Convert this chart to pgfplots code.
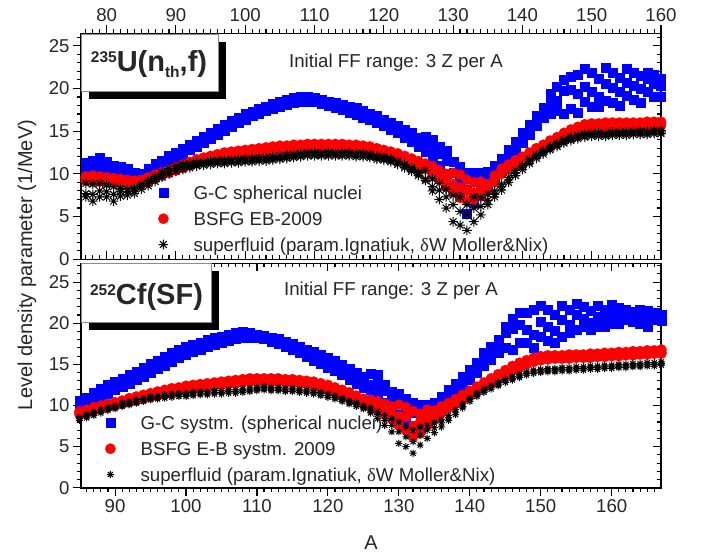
\documentclass[border=0pt]{standalone}
\usepackage{pgfplots}
\pgfplotsset{compat=1.18}
\usepackage{pgfplotstable}
\usepackage{fontspec}
\setmainfont{Liberation Sans}
\newfontfamily\seriffont{Liberation Serif}

% eight-armed asterisk for the superfluid model
\pgfdeclareplotmark{star8}{%
  \pgfpathmoveto{\pgfqpoint{-\pgfplotmarksize}{0pt}}%
  \pgfpathlineto{\pgfqpoint{\pgfplotmarksize}{0pt}}%
  \pgfpathmoveto{\pgfqpoint{0pt}{-\pgfplotmarksize}}%
  \pgfpathlineto{\pgfqpoint{0pt}{\pgfplotmarksize}}%
  \pgfpathmoveto{\pgfqpoint{-0.707\pgfplotmarksize}{-0.707\pgfplotmarksize}}%
  \pgfpathlineto{\pgfqpoint{0.707\pgfplotmarksize}{0.707\pgfplotmarksize}}%
  \pgfpathmoveto{\pgfqpoint{-0.707\pgfplotmarksize}{0.707\pgfplotmarksize}}%
  \pgfpathlineto{\pgfqpoint{0.707\pgfplotmarksize}{-0.707\pgfplotmarksize}}%
  \pgfusepathqstroke}

% U-235(nth,f): A, G-C (3 Z), BSFG (3 Z), superfluid (3 Z)
\pgfplotstableread{
A b1 b2 b3 r1 r2 r3 k1 k2 k3
77 11.3 10.4 10.2 9.7 9.5 9.2 8.9 7.7 7.3
78 11.6 10.9 10.3 9.8 9.5 9.1 8.8 7.6 6.8
79 11.9 11.0 10.2 9.7 9.4 9.1 8.9 8.0 7.3
80 11.4 10.8 10.3 9.6 9.3 9.0 8.7 7.9 7.3
81 11.0 10.6 10.2 9.5 9.2 8.9 8.5 7.6 6.8
82 10.9 10.4 10.0 9.4 9.1 8.9 8.3 7.9 7.4
83 10.6 10.1 9.9 9.3 9.0 8.8 8.2 7.9 7.5
84 10.2 9.9 9.6 9.2 9.0 8.8 8.3 8.0 7.7
85 10.0 9.8 9.6 9.3 9.1 8.9 8.8 8.5 8.2
86 10.6 10.3 10.0 9.6 9.4 9.2 9.2 8.9 8.6
87 11.2 10.8 10.5 9.9 9.7 9.5 9.7 9.4 9.1
88 11.6 11.3 11.0 10.2 10.0 9.8 10.2 9.9 9.6
89 12.1 11.7 11.4 10.5 10.3 10.1 10.6 10.3 10.0
90 12.5 12.2 11.9 10.8 10.6 10.4 10.9 10.6 10.3
91 13.0 12.6 12.3 11.1 10.9 10.7 11.1 10.8 10.5
92 13.4 13.1 12.8 11.4 11.2 11.0 11.2 11.0 10.7
93 13.9 13.6 13.2 11.7 11.5 11.3 11.3 11.1 10.9
94 14.4 14.0 13.7 11.9 11.7 11.5 11.4 11.2 11.0
95 14.8 14.5 14.1 12.1 11.9 11.7 11.5 11.3 11.1
96 15.3 15.0 14.6 12.3 12.1 11.9 11.6 11.4 11.2
97 15.8 15.4 15.1 12.5 12.3 12.1 11.6 11.4 11.2
98 16.2 15.9 15.5 12.6 12.4 12.2 11.7 11.5 11.3
99 16.6 16.3 16.0 12.7 12.5 12.3 11.7 11.5 11.3
100 17.0 16.7 16.4 12.8 12.6 12.4 11.8 11.6 11.4
101 17.3 17.0 16.8 12.9 12.7 12.5 11.8 11.6 11.4
102 17.6 17.3 17.1 13.0 12.8 12.6 11.9 11.7 11.5
103 17.9 17.6 17.4 13.1 12.9 12.7 11.9 11.7 11.5
104 18.2 17.9 17.6 13.2 13.0 12.8 12.0 11.8 11.6
105 18.5 18.2 17.9 13.3 13.1 12.9 12.1 11.9 11.7
106 18.7 18.4 18.1 13.3 13.1 12.9 12.2 12.0 11.8
107 18.9 18.6 18.3 13.4 13.2 13.0 12.3 12.1 11.9
108 19.1 18.8 18.5 13.4 13.2 13.0 12.4 12.2 12.0
109 19.0 18.8 18.5 13.5 13.3 13.1 12.5 12.3 12.1
110 18.9 18.7 18.4 13.5 13.3 13.1 12.5 12.3 12.1
111 18.7 18.5 18.2 13.5 13.3 13.1 12.5 12.3 12.1
112 18.5 18.3 18.0 13.5 13.3 13.1 12.5 12.3 12.1
113 18.3 18.1 17.8 13.5 13.3 13.1 12.5 12.3 12.1
114 18.1 17.8 17.5 13.5 13.3 13.1 12.5 12.3 12.1
115 17.9 17.6 17.2 13.4 13.2 13.0 12.5 12.3 12.1
116 17.7 17.3 16.9 13.4 13.2 13.0 12.4 12.2 12.0
117 17.4 17.0 16.6 13.3 13.1 12.9 12.4 12.2 12.0
118 17.1 16.7 16.3 13.2 13.0 12.8 12.3 12.1 11.9
119 16.8 16.4 16.0 13.0 12.8 12.6 12.1 11.9 11.7
120 16.4 16.0 15.6 12.8 12.6 12.4 12.0 11.8 11.6
121 16.0 15.6 15.2 12.6 12.4 12.2 11.8 11.6 11.4
122 15.6 15.2 14.8 12.4 12.1 11.9 11.5 11.3 11.1
123 15.2 14.8 14.3 12.1 11.8 11.6 11.1 10.9 10.7
124 14.8 14.3 13.8 11.8 11.5 11.2 10.7 10.5 10.3
125 14.3 13.8 13.2 11.5 11.2 10.9 10.2 10.0 9.8
126 14.4 13.4 12.6 11.2 10.9 10.6 10.4 9.4 9.2
127 14.0 13.0 11.8 10.9 10.5 10.0 9.4 8.5 8.0
128 13.2 12.4 11.0 10.4 9.9 9.3 8.9 8.1 7.0
129 12.7 11.6 10.0 10.0 9.2 8.5 8.2 7.3 6.0
130 11.4 10.2 8.8 10.1 8.8 7.9 7.5 6.4 4.4
131 10.9 9.3 7.4 9.9 8.4 7.2 7.3 5.6 4.0
132 10.1 8.2 5.4 9.3 8.0 6.8 6.4 5.2 3.4
133 10.1 7.5 6.6 9.0 7.8 7.0 7.3 6.0 4.4
134 10.2 8.6 7.4 9.1 8.1 7.4 7.2 6.2 5.2
135 10.3 9.4 8.4 8.8 8.5 8.0 7.6 6.9 6.4
136 11.0 10.2 9.6 9.8 9.4 9.0 8.0 7.6 7.3
137 11.8 11.2 10.6 10.6 10.3 10.0 8.8 8.5 8.1
138 12.8 12.2 11.6 11.1 10.8 10.5 9.6 9.3 9.0
139 13.8 13.2 12.6 11.6 11.3 11.0 10.4 10.1 9.8
140 14.8 14.2 13.6 12.0 11.8 11.5 11.0 10.8 10.5
141 15.8 15.2 14.6 12.5 12.3 12.0 11.7 11.4 11.2
142 16.8 16.2 15.6 13.0 12.7 12.5 12.2 12.0 11.8
143 17.8 17.2 16.6 13.4 13.2 12.9 12.7 12.5 12.3
144 19.4 18.2 17.0 13.9 13.6 13.4 13.2 13.0 12.8
145 20.2 18.6 17.4 14.3 14.0 13.8 13.6 13.4 13.2
146 21.0 19.8 17.1 14.8 14.5 14.2 14.0 13.8 13.6
147 21.4 19.9 17.6 15.2 14.9 14.6 14.3 14.1 13.9
148 21.6 19.4 17.2 15.5 15.3 15.0 14.5 14.3 14.1
149 22.3 20.2 18.4 15.8 15.6 15.3 14.7 14.5 14.3
150 21.8 19.6 17.9 15.9 15.7 15.5 14.8 14.6 14.4
151 21.2 19.0 17.9 15.9 15.7 15.5 14.8 14.6 14.4
152 22.4 20.6 18.6 16.0 15.7 15.5 14.8 14.6 14.4
153 21.8 20.1 18.3 16.0 15.7 15.5 14.9 14.7 14.5
154 21.3 19.6 18.0 16.0 15.8 15.6 14.9 14.7 14.5
155 22.3 20.7 19.2 16.0 15.8 15.6 14.9 14.7 14.5
156 21.9 20.3 18.7 16.0 15.8 15.6 15.0 14.8 14.6
157 21.5 20.0 18.3 16.0 15.8 15.6 15.0 14.8 14.6
158 21.9 21.1 19.6 16.1 15.9 15.7 15.0 14.8 14.6
159 21.6 20.6 19.1 16.1 15.9 15.7 15.1 14.9 14.7
160 21.1 20.3 19.0 16.1 15.9 15.7 15.1 14.9 14.7
}\topdata

% Cf-252(SF): A, G-C (3 Z), BSFG (3 Z), superfluid (3 Z)
\pgfplotstableread{
A b1 b2 b3 r1 r2 r3 k1 k2 k3
85 10.6 10.3 10.0 9.3 9.1 8.9 8.6 8.4 8.2
86 11.0 10.6 10.2 9.5 9.3 9.1 8.9 8.7 8.5
87 11.6 11.2 10.7 9.8 9.6 9.4 9.2 9.0 8.8
88 12.0 11.6 11.1 10.0 9.8 9.6 9.5 9.3 9.1
89 12.5 12.0 11.5 10.2 10.0 9.8 9.8 9.6 9.4
90 12.9 12.4 11.9 10.4 10.2 10.0 10.0 9.8 9.6
91 13.3 12.8 12.3 10.6 10.4 10.2 10.3 10.1 9.9
92 13.7 13.2 12.7 10.9 10.6 10.4 10.5 10.3 10.1
93 14.1 13.6 13.1 11.1 10.9 10.6 10.7 10.5 10.3
94 14.6 14.0 13.5 11.3 11.1 10.8 10.9 10.7 10.5
95 15.1 14.5 14.0 11.5 11.3 11.0 11.1 10.9 10.7
96 15.5 15.0 14.5 11.7 11.5 11.2 11.2 11.0 10.8
97 16.0 15.4 14.9 11.9 11.6 11.4 11.3 11.1 10.9
98 16.4 15.8 15.3 12.1 11.8 11.6 11.4 11.2 11.0
99 16.8 16.3 15.8 12.2 12.0 11.8 11.5 11.3 11.1
100 17.1 16.6 16.2 12.4 12.1 11.9 11.5 11.3 11.1
101 17.4 16.9 16.5 12.5 12.3 12.0 11.6 11.4 11.2
102 17.7 17.2 16.8 12.6 12.4 12.2 11.7 11.5 11.3
103 18.0 17.5 17.1 12.7 12.5 12.3 11.7 11.5 11.3
104 18.2 17.8 17.4 12.8 12.6 12.4 11.8 11.6 11.4
105 18.4 18.0 17.6 12.9 12.7 12.5 11.8 11.6 11.4
106 18.6 18.2 17.9 13.0 12.8 12.6 11.9 11.7 11.5
107 18.8 18.4 18.1 13.1 12.9 12.7 11.9 11.7 11.5
108 19.0 18.6 18.2 13.2 13.0 12.8 12.0 11.8 11.6
109 18.8 18.5 18.2 13.3 13.1 12.9 12.1 11.9 11.7
110 18.6 18.4 18.2 13.3 13.1 12.9 12.2 12.0 11.8
111 18.5 18.3 18.1 13.3 13.1 12.9 12.3 12.1 11.9
112 18.3 18.1 17.8 13.3 13.1 12.9 12.2 12.0 11.8
113 18.1 17.8 17.5 13.3 13.1 12.9 12.2 12.0 11.8
114 17.8 17.5 17.2 13.2 13.0 12.8 12.1 11.9 11.7
115 17.5 17.2 16.8 13.2 13.0 12.8 12.1 11.9 11.7
116 17.2 16.8 16.4 13.1 12.9 12.7 12.0 11.8 11.6
117 16.8 16.4 16.0 13.0 12.8 12.6 11.9 11.7 11.5
118 16.5 16.0 15.5 12.9 12.6 12.4 11.8 11.6 11.4
119 16.2 15.6 15.1 12.7 12.4 12.2 11.6 11.4 11.2
120 15.8 15.2 14.6 12.5 12.2 11.9 11.4 11.2 11.0
121 15.4 14.8 14.2 12.2 11.9 11.6 11.2 11.0 10.8
122 15.0 14.3 13.7 11.9 11.6 11.3 10.9 10.7 10.5
123 14.5 13.8 13.2 11.6 11.3 11.0 10.6 10.4 10.2
124 14.0 13.3 12.7 11.2 10.9 10.6 10.3 10.1 9.9
125 13.5 12.8 12.2 10.8 10.5 10.2 10.0 9.8 9.6
126 13.9 12.5 11.9 10.7 10.2 9.8 9.7 9.4 9.1
127 13.7 12.7 11.4 10.5 9.9 9.4 9.3 8.9 8.4
128 12.6 11.8 10.4 10.2 9.5 8.9 8.8 8.2 7.6
129 11.7 11.0 9.6 9.9 9.0 8.4 8.4 7.6 6.8
130 11.5 10.2 8.9 10.1 8.7 7.6 8.0 6.8 5.4
131 10.8 9.5 8.0 9.8 8.6 7.0 7.4 6.2 5.0
132 10.3 9.1 7.6 9.3 7.5 6.2 7.0 5.6 4.2
133 10.1 8.6 7.2 9.0 8.0 6.6 7.4 6.4 5.2
134 10.1 9.0 8.2 9.5 8.4 7.6 7.6 7.0 6.0
135 10.3 9.6 9.0 9.4 8.8 8.3 7.9 7.3 6.7
136 11.1 10.5 10.0 9.9 9.5 9.1 8.3 7.9 7.4
137 11.9 11.2 10.8 10.3 10.0 9.7 8.8 8.5 8.2
138 12.7 12.0 11.6 10.8 10.5 10.2 9.5 9.2 8.9
139 13.5 12.8 12.4 11.3 11.0 10.7 10.2 9.9 9.7
140 14.4 13.6 13.2 11.8 11.5 11.2 10.9 10.7 10.5
141 15.2 14.4 14.0 12.3 12.0 11.7 11.5 11.3 11.1
142 16.4 15.4 14.8 12.8 12.5 12.2 12.0 11.8 11.6
143 17.2 16.2 15.6 13.3 13.0 12.7 12.4 12.2 12.0
144 18.0 17.0 16.4 13.8 13.5 13.2 12.8 12.6 12.4
145 19.6 18.8 17.0 14.3 14.0 13.7 13.2 13.0 12.8
146 20.5 19.4 16.8 14.8 14.5 14.2 13.5 13.3 13.1
147 21.3 19.8 17.6 15.2 14.9 14.6 13.8 13.6 13.4
148 21.3 19.2 17.6 15.5 15.2 15.0 14.1 13.9 13.7
149 21.6 18.6 17.0 15.8 15.5 15.3 14.3 14.1 13.9
150 22.1 20.2 18.4 16.0 15.7 15.5 14.4 14.2 14.0
151 21.6 19.6 17.9 16.1 15.8 15.6 14.5 14.3 14.1
152 21.1 19.1 17.6 16.1 15.9 15.7 14.5 14.3 14.1
153 22.1 20.4 18.4 16.1 15.9 15.7 14.6 14.4 14.2
154 21.6 19.8 18.8 16.2 15.9 15.7 14.6 14.4 14.2
155 22.4 21.0 19.2 16.2 16.0 15.8 14.7 14.5 14.3
156 22.0 20.5 19.6 16.2 16.0 15.8 14.7 14.5 14.3
157 21.5 20.1 19.2 16.3 16.0 15.8 14.8 14.6 14.4
158 22.1 20.8 19.6 16.3 16.1 15.9 14.8 14.6 14.4
159 21.7 20.4 19.6 16.4 16.1 15.9 14.9 14.7 14.5
160 22.3 21.0 20.0 16.4 16.2 16.0 14.9 14.7 14.5
161 21.9 20.7 20.0 16.5 16.2 16.0 15.0 14.8 14.6
162 21.7 21.0 20.4 16.5 16.3 16.1 15.0 14.8 14.6
163 21.4 20.7 20.2 16.6 16.3 16.1 15.1 14.9 14.7
164 21.6 21.0 20.0 16.6 16.4 16.2 15.1 14.9 14.7
165 21.5 20.6 19.6 16.7 16.4 16.2 15.2 15.0 14.8
166 21.3 20.8 20.4 16.7 16.5 16.3 15.2 15.0 14.8
167 21.1 20.6 20.3 16.8 16.5 16.3 15.3 15.1 14.9
}\botdata

\definecolor{txt}{gray}{0.15}

\pgfplotsset{
  panel/.style={
    scale only axis, width=580pt,
    axis line style={line width=1.5pt, black},
    major tick length=8pt, minor tick length=4pt,
    every tick/.style={black, line width=1.1pt},
    xtick distance=10, ytick distance=5, minor ytick={1,...,26},
    tick label style={font=\fontsize{18.6}{20}\selectfont, text=txt},
    /pgf/number format/assume math mode=true,
    ymin=0, clip=false,
  },
  legmark/.style={legend image code/.code={%
      \path (0pt,0pt) (42pt,0pt);
      \draw[##1] plot coordinates {(12pt,0pt)};}},
  gc/.style={only marks, mark=square*, mark size=4.5pt, blue,
    mark options={line width=0.2pt}, legmark},
  bs/.style={only marks, mark=*, mark size=5.2pt, red,
    mark options={line width=0.2pt}, legmark},
  sf/.style={only marks, mark=star8, black,
    mark options={line width=1pt}, legmark},
  leg/.style={legend cell align=left,
    legend style={anchor=north west, draw=none, fill=none, inner sep=0pt,
      row sep=8.8pt, font=\fontsize{18.7}{20}\selectfont, text=txt,
      nodes={inner sep=0pt, text height=15pt, text depth=2pt, anchor=west},
      /tikz/every even column/.append style={column sep=0pt}}},
}

\begin{document}
\begin{tikzpicture}
\useasboundingbox (0pt,0pt) rectangle (702pt,-557pt);

% ---------- upper panel: 235U(nth,f) ----------
\begin{axis}[panel, at={(81pt,-259.3pt)}, anchor=south west, height=226pt,
  xmin=76.3, xmax=160, ymax=26.45, minor xtick={77,...,160},
  xtick pos=left, ytick pos=right, tick align=inside,
  xticklabels={}, yticklabels={}]
\end{axis}
\begin{axis}[panel, leg, at={(81pt,-259.3pt)}, anchor=south west, height=226pt,
  xmin=76.3, xmax=160, ymax=26.45, minor xtick={77,...,160},
  xtick pos=right, xticklabel pos=right, ytick pos=left, tick align=outside,
  legend style={at={(rel axis cs:0.1207,0.3323)}}]
\addplot[gc] table[x=A,y=b1]{\topdata};
\addlegendentry{G-C spherical nuclei}
\addplot[gc, forget plot] table[x=A,y=b2]{\topdata};
\addplot[gc, forget plot] table[x=A,y=b3]{\topdata};
\addplot[bs] table[x=A,y=r1]{\topdata};
\addlegendentry{BSFG EB-2009}
\addplot[bs, forget plot] table[x=A,y=r2]{\topdata};
\addplot[bs, forget plot] table[x=A,y=r3]{\topdata};
\addplot[sf, mark size=4.8pt] table[x=A,y=k1]{\topdata};
\addlegendentry{superfluid (param.Ignatiuk, {\seriffont δ}W Moller\&Nix)}
\addplot[sf, mark size=4.8pt, forget plot] table[x=A,y=k2]{\topdata};
\addplot[sf, mark size=4.8pt, forget plot] table[x=A,y=k3]{\topdata};
\end{axis}

% ---------- lower panel: 252Cf(SF) ----------
\begin{axis}[panel, at={(81pt,-487.8pt)}, anchor=south west, height=224.5pt,
  xmin=85.2, xmax=166.95, ymax=27.28, minor xtick={86,...,166},
  minor ytick={1,...,27},
  xtick pos=right, ytick pos=right, tick align=inside,
  xticklabels={}, yticklabels={}]
\end{axis}
\begin{axis}[panel, leg, at={(81pt,-487.8pt)}, anchor=south west, height=224.5pt,
  xmin=85.2, xmax=166.95, ymax=27.28, minor xtick={86,...,166},
  minor ytick={1,...,27},
  xtick pos=left, ytick pos=left, tick align=outside,
  legend style={at={(rel axis cs:0.0293,0.3278)}}]
\addplot[gc] table[x=A,y=b1]{\botdata};
\addlegendentry{G-C systm. (spherical nuclei)}
\addplot[gc, forget plot] table[x=A,y=b2]{\botdata};
\addplot[gc, forget plot] table[x=A,y=b3]{\botdata};
\addplot[bs] table[x=A,y=r1]{\botdata};
\addlegendentry{BSFG E-B systm. 2009}
\addplot[bs, forget plot] table[x=A,y=r2]{\botdata};
\addplot[bs, forget plot] table[x=A,y=r3]{\botdata};
\addplot[sf, mark size=3.6pt] table[x=A,y=k1]{\botdata};
\addlegendentry{superfluid (param.Ignatiuk, {\seriffont δ}W Moller\&Nix)}
\addplot[sf, mark size=3.6pt, forget plot] table[x=A,y=k2]{\botdata};
\addplot[sf, mark size=3.6pt, forget plot] table[x=A,y=k3]{\botdata};
\end{axis}

% reaction labels with drop shadow
\fill[black] (89.2pt,-41.5pt) rectangle (225.5pt,-99.2pt);
\filldraw[fill=white, draw=black!45, line width=0.8pt] (81.7pt,-34pt) rectangle (218pt,-91.7pt);
\node[text=txt, font=\bfseries\fontsize{29}{32}\selectfont] at (149pt,-64.5pt)
  {\raisebox{9pt}{\fontsize{15.5}{16}\selectfont 235}U(n\raisebox{-6pt}{\fontsize{15.5}{16}\selectfont th},f)};

\fill[black] (88.5pt,-271pt) rectangle (219.2pt,-330.2pt);
\filldraw[fill=white, draw=black!45, line width=0.8pt] (81pt,-263.5pt) rectangle (211.7pt,-322.7pt);
\node[text=txt, font=\bfseries\fontsize{29}{32}\selectfont] at (146.5pt,-297pt)
  {\raisebox{9pt}{\fontsize{15.5}{16}\selectfont 252}Cf(SF)};

% annotations
\node[text=txt, font=\fontsize{18.7}{20}\selectfont] at (396pt,-62.7pt) {Initial FF range: 3 Z per A};
\node[text=txt, font=\fontsize{18.7}{20}\selectfont] at (391pt,-290.7pt) {Initial FF range: 3 Z per A};

% axis titles
\node[text=txt, rotate=90, font=\fontsize{20}{22}\selectfont] at (27pt,-265pt) {Level density parameter (1/MeV)};
\node[text=txt, font=\fontsize{20}{22}\selectfont] at (371pt,-543pt) {A};
\end{tikzpicture}
\end{document}
